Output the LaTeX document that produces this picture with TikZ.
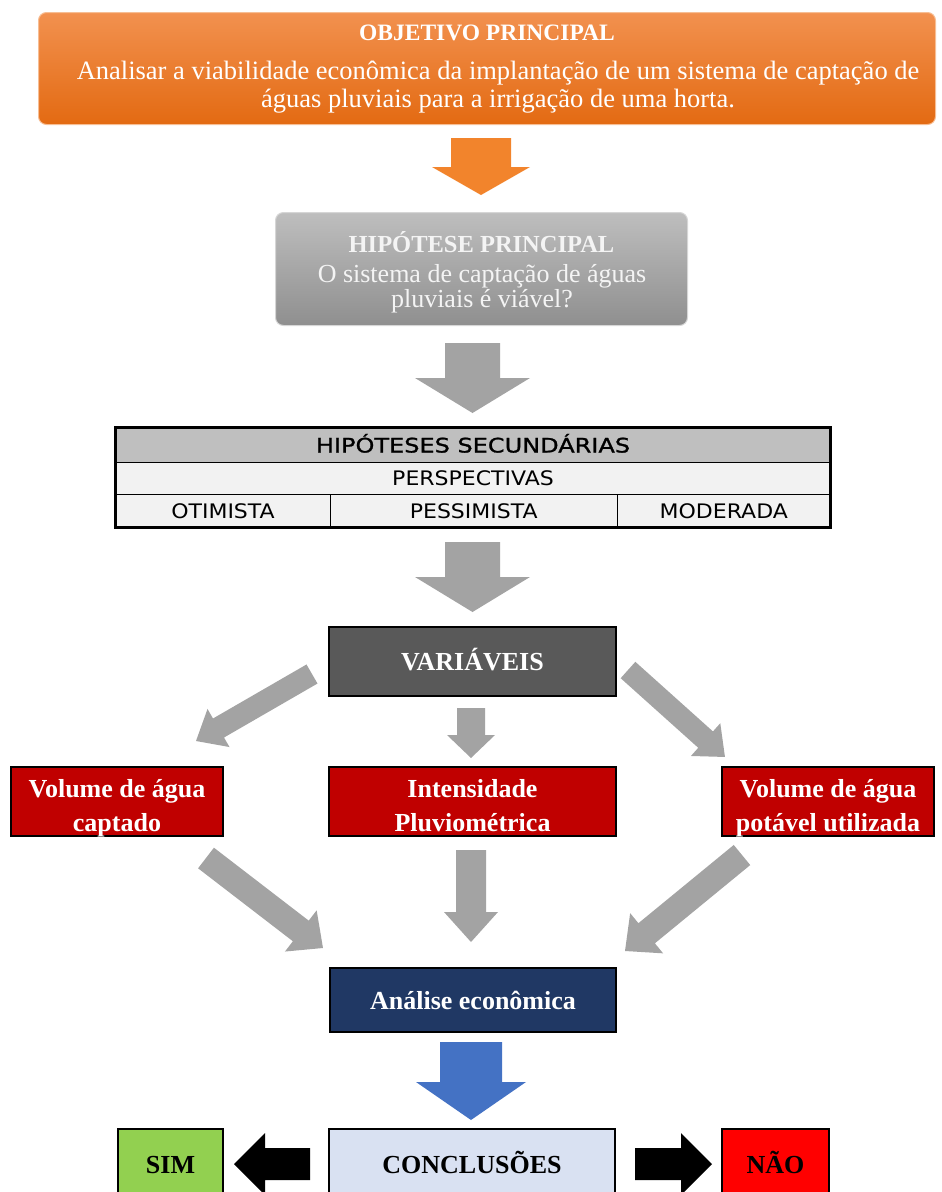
\documentclass[tikz,border=0pt]{standalone}
\usepackage{fontspec}
\setmainfont{Liberation Serif}
\newfontfamily\tabfont[FakeStretch=1.1]{DejaVu Sans}
\newfontfamily\tabheadfont[FakeStretch=1.2,FakeBold=1.2]{DejaVu Sans}
\usetikzlibrary{calc}

\definecolor{orangeTop}{HTML}{F2914F}
\definecolor{orangeBot}{HTML}{E36A12}
\definecolor{orangeEdge}{HTML}{F7BE94}
\definecolor{orangeArrow}{HTML}{F2842C}
\definecolor{greyTop}{HTML}{BEBEBE}
\definecolor{greyBot}{HTML}{8F8F8F}
\definecolor{greyEdge}{HTML}{D6D6D6}
\definecolor{arrowGrey}{HTML}{A3A3A3}
\definecolor{varFill}{HTML}{595959}
\definecolor{redFill}{HTML}{C00000}
\definecolor{navyFill}{HTML}{203864}
\definecolor{concFill}{HTML}{D9E1F2}
\definecolor{simFill}{HTML}{92D050}
\definecolor{naoFill}{HTML}{FF0000}
\definecolor{blueArrow}{HTML}{4472C4}
\definecolor{tabHead}{HTML}{BFBFBF}
\definecolor{tabRow}{HTML}{F2F2F2}
\definecolor{softWhite}{HTML}{F4F4F4}

% block arrow from #2 to #3: shaft half width #4, head half width #5, head length #6
\newcommand\blockarrow[6][]{%
  \path let \p1=(#2), \p2=(#3),
        \n1={atan2(\y2-\y1,\x2-\x1)},
        \n2={veclen(\x2-\x1,\y2-\y1)} in
        \pgfextra{\xdef\baAng{\n1}\xdef\baLen{\n2}\xdef\baX{\x1}\xdef\baY{\y1}};
  \fill[#1, shift={(\baX,\baY)}, rotate=\baAng]
    (0pt,-#4pt) -- (\baLen-#6pt,-#4pt) -- (\baLen-#6pt,-#5pt) -- (\baLen,0pt)
    -- (\baLen-#6pt,#5pt) -- (\baLen-#6pt,#4pt) -- (0pt,#4pt) -- cycle;
}

\tikzset{
  box/.style={rectangle, inner sep=0pt, align=center},
  solidbox/.style={box, draw=black, line width=2.5pt},
  boldtxt/.style={font=\bfseries\fontsize{26}{34}\selectfont},
  oneline/.style={text height=18pt, text depth=0pt},
  twolines/.style={text height=60pt, text depth=0pt},
  cell/.style={box, draw=black, line width=0.8pt, fill=tabRow,
    font=\tabfont\fontsize{20}{24}\selectfont, text height=15pt, text depth=0pt},
}

\begin{document}
\begin{tikzpicture}[x=1pt,y=-1pt]
\useasboundingbox (0,0) rectangle (942,1192);
\clip (0,0) rectangle (942,1192);

% main objective
\node[box, rounded corners=8pt, top color=orangeTop, bottom color=orangeBot,
      draw=orangeEdge, line width=1pt, minimum width=897pt, minimum height=112pt]
      (obj) at (487,68.5) {};
\node[box, text=white, font=\bfseries\fontsize{23.5}{28}\selectfont] (objtitle) at (487,33) {OBJETIVO PRINCIPAL};
\node[box, text=white, font=\fontsize{26.5}{28}\selectfont] (objtext) at (498,87)
  {Analisar a viabilidade econômica da implantação de um sistema de captação de\\
   águas pluviais para a irrigação de uma horta.};

% main hypothesis
\node[box, rounded corners=8pt, top color=greyTop, bottom color=greyBot,
      draw=greyEdge, line width=1pt, minimum width=412pt, minimum height=113pt]
      (hyp) at (481.5,269) {};
\node[box, text=softWhite, font=\bfseries\fontsize{24.5}{26}\selectfont] (hyptitle) at (481.5,242) {HIPÓTESE PRINCIPAL};
\node[box, text=softWhite, font=\fontsize{26}{23}\selectfont] (hyptext) at (482,289)
  {O sistema de captação de águas\\pluviais é viável?};

% secondary hypotheses table
\node[cell, fill=tabHead, font=\tabheadfont\fontsize{20}{24}\selectfont,
      minimum width=714pt, minimum height=34pt] (sec) at (473,445) {HIPÓTESES SECUNDÁRIAS};
\node[cell, minimum width=714pt, minimum height=32pt] (persp) at (473,478) {PERSPECTIVAS};
\node[cell, minimum width=214pt, minimum height=33pt] (otim) at (223,510.5) {OTIMISTA};
\node[cell, minimum width=287.5pt, minimum height=33pt] (pess) at (473.75,510.5) {PESSIMISTA};
\node[cell, minimum width=212.5pt, minimum height=33pt] (mod) at (723.75,510.5) {MODERADA};
\draw[line width=2.5pt] (sec.north west) rectangle (mod.south east);

% variables
\node[solidbox, boldtxt, oneline, fill=varFill, text=white, minimum width=287pt, minimum height=69pt] (var) at (472.5,661.5) {VARIÁVEIS};
\node[solidbox, boldtxt, twolines, fill=redFill, text=white, minimum width=212pt, minimum height=69pt] (vol1) at (117,801.5) {Volume de água\\captado};
\node[solidbox, boldtxt, twolines, fill=redFill, text=white, minimum width=287pt, minimum height=69pt] (int) at (472.5,801.5) {Intensidade\\Pluviométrica};
\node[solidbox, boldtxt, twolines, fill=redFill, text=white, minimum width=212pt, minimum height=69pt] (vol2) at (828,801.5) {Volume de água\\potável utilizada};

% analysis and conclusions
\node[solidbox, boldtxt, oneline, fill=navyFill, text=white, minimum width=286pt, minimum height=64pt] (ana) at (473,1000) {Análise econômica};
\node[solidbox, boldtxt, oneline, fill=concFill, text=black, minimum width=286pt, minimum height=70pt] (conc) at (472,1164) {CONCLUSÕES};
\node[solidbox, boldtxt, oneline, fill=simFill, text=black, minimum width=105pt, minimum height=70pt] (sim) at (170.5,1164) {SIM};
\node[solidbox, boldtxt, oneline, fill=naoFill, text=black, minimum width=107pt, minimum height=70pt] (nao) at (775.5,1164) {NÃO};

% arrow end points
\coordinate (a1s) at (481,138);   \coordinate (a1e) at (481,195);
\coordinate (a2s) at (472.5,343); \coordinate (a2e) at (472.5,413);
\coordinate (a3s) at (472.5,542); \coordinate (a3e) at (472.5,612);
\coordinate (a4s) at (312,674);   \coordinate (a4e) at (196,741);
\coordinate (a5s) at (471,708);   \coordinate (a5e) at (471,758);
\coordinate (a6s) at (628,670);   \coordinate (a6e) at (725,757);
\coordinate (a7s) at (206,858);   \coordinate (a7e) at (323,948);
\coordinate (a8s) at (471,850);   \coordinate (a8e) at (471,942);
\coordinate (a9s) at (742,855);   \coordinate (a9e) at (625,951);
\coordinate (a10s) at (471,1042); \coordinate (a10e) at (471,1120);
\coordinate (a11s) at (310,1164); \coordinate (a11e) at (234,1164);
\coordinate (a12s) at (635,1164); \coordinate (a12e) at (712,1164);

\blockarrow[orangeArrow]{a1s}{a1e}{30}{49}{28}
\blockarrow[arrowGrey]{a2s}{a2e}{27.5}{57.5}{35}
\blockarrow[arrowGrey]{a3s}{a3e}{27.5}{57.5}{35}
\blockarrow[arrowGrey]{a4s}{a4e}{11}{22}{26}
\blockarrow[arrowGrey]{a5s}{a5e}{14}{24}{23}
\blockarrow[arrowGrey]{a6s}{a6e}{11}{22}{26}
\blockarrow[arrowGrey]{a7s}{a7e}{13}{26}{28}
\blockarrow[arrowGrey]{a8s}{a8e}{15}{27}{30}
\blockarrow[arrowGrey]{a9s}{a9e}{13}{26}{28}
\blockarrow[blueArrow]{a10s}{a10e}{31}{55}{38}
\blockarrow[black]{a11s}{a11e}{16}{31}{31}
\blockarrow[black]{a12s}{a12e}{16}{31}{31}
\end{tikzpicture}
\end{document}
